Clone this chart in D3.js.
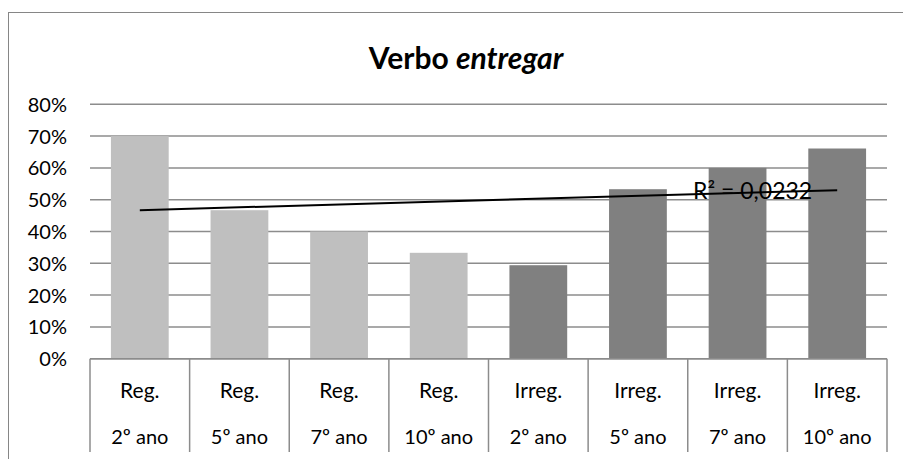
<!DOCTYPE html>
<html>
<head>
<meta charset="utf-8">
<script src="https://cdn.jsdelivr.net/npm/d3@7"></script>
<style>
  body { margin: 0; background: #fff; }
  text { font-family: Lato, "Open Sans", sans-serif; fill: #000; }
</style>
</head>
<body>
<script>
var width = 903,
    height = 459;

// data
var types = ["Reg.", "Reg.", "Reg.", "Reg.", "Irreg.", "Irreg.", "Irreg.", "Irreg."];
var years = ["2º ano", "5º ano", "7º ano", "10º ano", "2º ano", "5º ano", "7º ano", "10º ano"];
var values = [0.70, 0.467, 0.40, 0.333, 0.294, 0.533, 0.60, 0.661];
var colors = ["#bfbfbf", "#bfbfbf", "#bfbfbf", "#bfbfbf", "#808080", "#808080", "#808080", "#808080"];
var yTicks = [0, 0.1, 0.2, 0.3, 0.4, 0.5, 0.6, 0.7, 0.8];
var r2Label = "R² = 0,0232";

var plotL = 90, plotR = 887, plotT = 104.3, plotB = 358.7;

var svg = d3.select("body").append("svg")
        .attr("width", width)
        .attr("height", height);

// chart frame
svg.append("rect")
    .attr("x", 8.5).attr("y", 12.5)
    .attr("width", 920).attr("height", 470)
    .attr("fill", "none")
    .attr("stroke", "#868686");

// title
var title = svg.append("text")
    .attr("x", 466).attr("y", 69)
    .attr("text-anchor", "middle")
    .style("font-size", "30px")
    .style("font-weight", "bold");
title.append("tspan").text("Verbo ");
title.append("tspan").style("font-style", "italic").text("entregar");

var idx = d3.range(values.length);

var x = d3.scaleBand()
        .domain(idx)
        .range([plotL, plotR])
        .padding(0);

var y = d3.scaleLinear()
        .domain([0, 0.8])
        .range([plotB, plotT]);

// gridlines
svg.append("g").selectAll("line")
    .data(yTicks)
    .enter().append("line")
    .attr("x1", plotL).attr("x2", plotR)
    .attr("y1", function (d) { return y(d); })
    .attr("y2", function (d) { return y(d); })
    .attr("stroke", "#8c8c8c")
    .attr("stroke-width", 1.5);

// y axis labels
var yAxis = d3.axisLeft(y)
        .tickValues(yTicks)
        .tickFormat(d3.format(".0%"))
        .tickSize(0)
        .tickPadding(23);

var ya = svg.append("g")
        .attr("transform", "translate(" + plotL + ",0)")
        .call(yAxis);
ya.select(".domain").remove();
ya.selectAll("text")
    .style("font-size", "20px")
    .style("font-family", "Lato, 'Open Sans', sans-serif")
    .attr("dy", "0.35em");

// bars
var barW = x.bandwidth() * 0.58;
svg.append("g").selectAll("rect")
    .data(idx)
    .enter().append("rect")
    .attr("x", function (i) { return x(i) + (x.bandwidth() - barW) / 2; })
    .attr("y", function (i) { return y(values[i]); })
    .attr("width", barW)
    .attr("height", function (i) { return y(0) - y(values[i]); })
    .attr("fill", function (i) { return colors[i]; });

// category table lines
svg.append("line")
    .attr("x1", plotL).attr("x2", plotR)
    .attr("y1", plotB).attr("y2", plotB)
    .attr("stroke", "#8c8c8c")
    .attr("stroke-width", 1.5);

svg.append("g").selectAll("line")
    .data(d3.range(values.length + 1))
    .enter().append("line")
    .attr("x1", function (i) { return plotL + i * x.step(); })
    .attr("x2", function (i) { return plotL + i * x.step(); })
    .attr("y1", plotB).attr("y2", 452)
    .attr("stroke", "#8c8c8c")
    .attr("stroke-width", 1.5);

var cats = svg.append("g").selectAll("g")
        .data(idx)
        .enter().append("g")
        .attr("transform", function (i) { return "translate(" + (x(i) + x.bandwidth() / 2) + ",0)"; });

cats.append("text")
    .attr("y", 398)
    .attr("text-anchor", "middle")
    .style("font-size", "21px")
    .text(function (i) { return types[i]; });

cats.append("text")
    .attr("y", 444)
    .attr("text-anchor", "middle")
    .style("font-size", "20px")
    .text(function (i) { return years[i]; });

// linear trendline (least squares over category index)
var n = values.length,
    mx = d3.mean(idx),
    my = d3.mean(values),
    sxy = d3.sum(idx, function (i) { return (i - mx) * (values[i] - my); }),
    sxx = d3.sum(idx, function (i) { return (i - mx) * (i - mx); }),
    slope = sxy / sxx,
    icpt = my - slope * mx;

var cx = function (i) { return x(i) + x.bandwidth() / 2; };

svg.append("line")
    .attr("x1", cx(0)).attr("y1", y(icpt))
    .attr("x2", cx(n - 1)).attr("y2", y(icpt + slope * (n - 1)))
    .attr("stroke", "#000")
    .attr("stroke-width", 2);

svg.append("text")
    .attr("x", cx(n - 1) - 25)
    .attr("y", y(icpt + slope * (n - 1)) + 9)
    .attr("text-anchor", "end")
    .style("font-size", "23px")
    .text(r2Label);
</script>
</body>
</html>
